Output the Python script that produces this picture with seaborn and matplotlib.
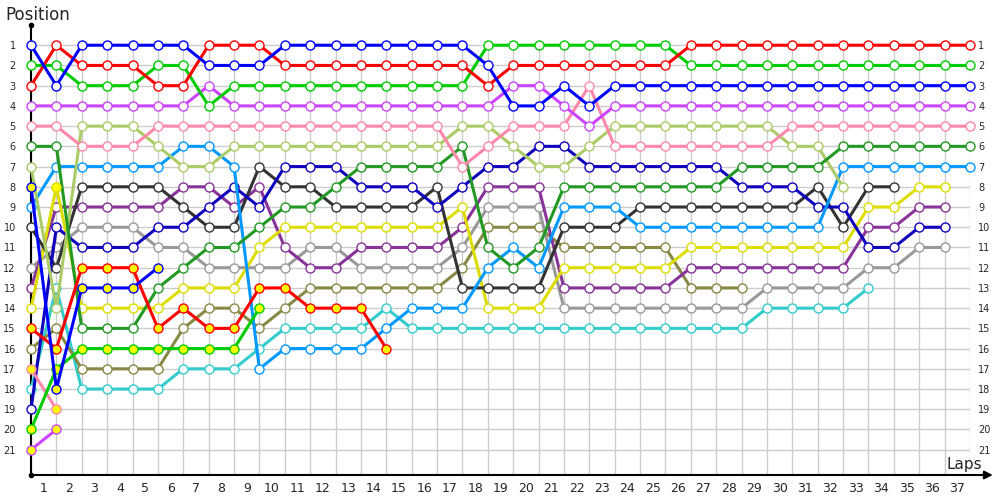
import matplotlib
matplotlib.use("Agg")
import matplotlib.pyplot as plt
import seaborn as sns
import numpy as np
import pandas as pd

# lap 1..37, position 1..21; each driver list starts at the grid (index 0)
laps = list(range(1, 38))
positions = list(range(1, 22))

blue = [1, 3, 1, 1, 1, 1, 1, 2, 2, 2] + [1] * 8 + [2, 4, 4, 3, 4] + [3] * 15
red = [3, 1, 2, 2, 2, 3, 3, 1, 1, 1] + [2] * 8 + [3] + [2] * 7 + [1] * 12
green = [2, 2, 3, 3, 3, 2, 2, 4, 3] + [3] * 9 + [1] * 8 + [2] * 12
violet = [4] * 7 + [3] + [4] * 11 + [3, 3, 4, 5] + [4] * 15
pink = [5, 5, 6, 6, 6] + [5] * 12 + [7, 6, 5, 5, 5, 3] + [6] * 7 + [5] * 8
dkgreen = [6, 6, 15, 15, 15, 13, 12, 11, 11, 10, 9, 9, 8] + [7] * 4 + [6, 11, 12, 11] + [8] * 7 + [7] * 4 + [6] * 6
ltgreen = [7, 14, 5, 5, 5, 6, 7, 7] + [6] * 9 + [5, 5, 6, 7, 7, 6] + [5] * 7 + [6, 6, 8]
blue_y = [8, 18, 13, 13, 13, 12]
ltblue = [9, 7, 7, 7, 7, 7, 6, 6, 7, 17, 16, 16, 16, 16, 15, 14, 14, 14, 12, 11, 12, 9, 9, 9] + [10] * 8 + [7] * 6
black = [10, 12, 8, 8, 8, 8, 9, 10, 10, 7, 8, 8, 9, 9, 9, 9, 8, 13, 13, 13, 13, 10, 10, 10] + [9] * 7 + [8, 10, 8, 8]
dkblue = [19, 10, 11, 11, 11, 10, 10, 9, 8, 9, 7, 7, 7, 8, 8, 8, 9, 8, 7, 7, 6, 6, 7] + [7] * 5 + [8] * 3 + [9, 9, 11, 11, 10, 10]
gray = [12, 11, 10, 10, 10, 11, 11, 12, 12, 12, 12, 11, 11, 12, 12, 12, 12, 11, 9, 9, 9, 14] + [14] * 7 + [13] * 4 + [12, 12, 11, 11]
purple = [13, 9, 9, 9, 9, 9, 8, 8, 9, 8, 11, 12, 12, 11, 11, 11, 11, 10, 8, 8, 8, 13] + [13] * 4 + [12] * 7 + [10, 10, 9, 9]
yellow = [14, 8, 14, 14, 14, 14, 13, 13, 13, 11, 10] + [10] * 6 + [9, 14, 14, 14, 12] + [12] * 4 + [11] * 7 + [9, 9, 8, 8]
red_y = [15, 16, 12, 12, 12, 15, 14, 15, 15, 13, 13, 14, 14, 14, 16]
olive = [16, 15, 17, 17, 17, 17, 15, 14, 14, 15, 14, 13] + [13] * 5 + [12, 10, 10, 10] + [11] * 5 + [13] * 3
pink_y = [17, 19]
cyan = [18, 13, 18, 18, 18, 18, 17, 17, 17, 16, 15, 15, 15, 15, 14] + [15] * 14 + [14] * 4 + [13]
green_y = [20, 17, 16, 16, 16, 16, 16, 16, 16, 14]
violet_y = [21, 20]

drivers = [
    (cyan, "#33cccc", "white"),
    (olive, "#888844", "white"),
    (gray, "#999999", "white"),
    (purple, "#883399", "white"),
    (yellow, "#dddd00", "white"),
    (black, "#333333", "white"),
    (dkblue, "#1100bb", "white"),
    (ltblue, "#0099ff", "white"),
    (ltgreen, "#aacc66", "white"),
    (dkgreen, "#229922", "white"),
    (pink, "#ff88aa", "white"),
    (violet, "#cc44ff", "white"),
    (green, "#00cc00", "white"),
    (red, "#ff0000", "white"),
    (blue, "#0000ff", "white"),
    (violet_y, "#cc44ff", "#ffff00"),
    (pink_y, "#ff88aa", "#ffff00"),
    (green_y, "#00cc00", "#ffff00"),
    (red_y, "#ff0000", "#ffff00"),
    (blue_y, "#0000ff", "#ffff00"),
]

sns.set_theme(style="white")
plt.rcParams['font.family'] = ['DejaVu Sans']

fig = plt.figure(figsize=(10, 5), dpi=100)
ax = fig.add_axes([0.031, 0.05, 0.939, 0.9])
ax.set_xlim(0, 37)
ax.set_ylim(22.25, 0)

# grid
ax.vlines(range(0, 38), 0.8, 22.25, color="#cccccc", lw=1, zorder=0)
ax.hlines(positions, 0, 37, color="#cccccc", lw=1, zorder=0)

for pos, color, face in drivers:
    df = pd.DataFrame({"lap": range(len(pos)), "pos": pos})
    sns.lineplot(data=df, x="lap", y="pos", ax=ax, color=color, lw=2.2,
                 marker="o", markersize=6.5, markerfacecolor=face,
                 markeredgecolor=color, markeredgewidth=1.0, clip_on=False,
                 zorder=3)

# yellow marker filled on lap 1
ax.plot([1], [yellow[1]], "o", ms=6.5, mfc="#ffff00", mec="#dddd00", mew=1.0, zorder=4)

for s in ["top", "right", "bottom"]:
    ax.spines[s].set_visible(False)
ax.spines["left"].set_color("black")
ax.spines["left"].set_linewidth(1.5)
ax.annotate("", xy=(37.9, 22.25), xytext=(0, 22.25), xycoords="data",
            arrowprops=dict(arrowstyle="-|>", color="black", lw=1.5,
                            shrinkA=0, shrinkB=0, mutation_scale=12),
            annotation_clip=False)
ax.plot([0], [0], "o", color="black", ms=3, clip_on=False)
ax.plot([0], [22.25], "o", color="black", ms=3, clip_on=False)

ax.set_xticks([k - 0.5 for k in laps])
ax.set_xticklabels([str(k) for k in laps], fontsize=9)
ax.set_yticks(positions)
ax.set_yticklabels([str(p) for p in positions], fontsize=7)
ax.tick_params(axis="x", length=0, pad=5)
ax.tick_params(axis="y", length=0, pad=11)
ax.set_xlabel("")
ax.set_ylabel("")

ax2 = ax.twinx()
ax2.set_ylim(22.25, 0)
ax2.set_yticks(positions)
ax2.set_yticklabels([str(p) for p in positions], fontsize=7)
ax2.tick_params(axis="y", length=0, pad=6)
for s in ax2.spines.values():
    s.set_visible(False)

fig.text(0.005, 0.97, "Position", fontsize=12, va="center", ha="left")
fig.text(0.964, 0.07, "Laps", fontsize=11, va="center", ha="center")

fig.savefig("out.png", dpi=100)
